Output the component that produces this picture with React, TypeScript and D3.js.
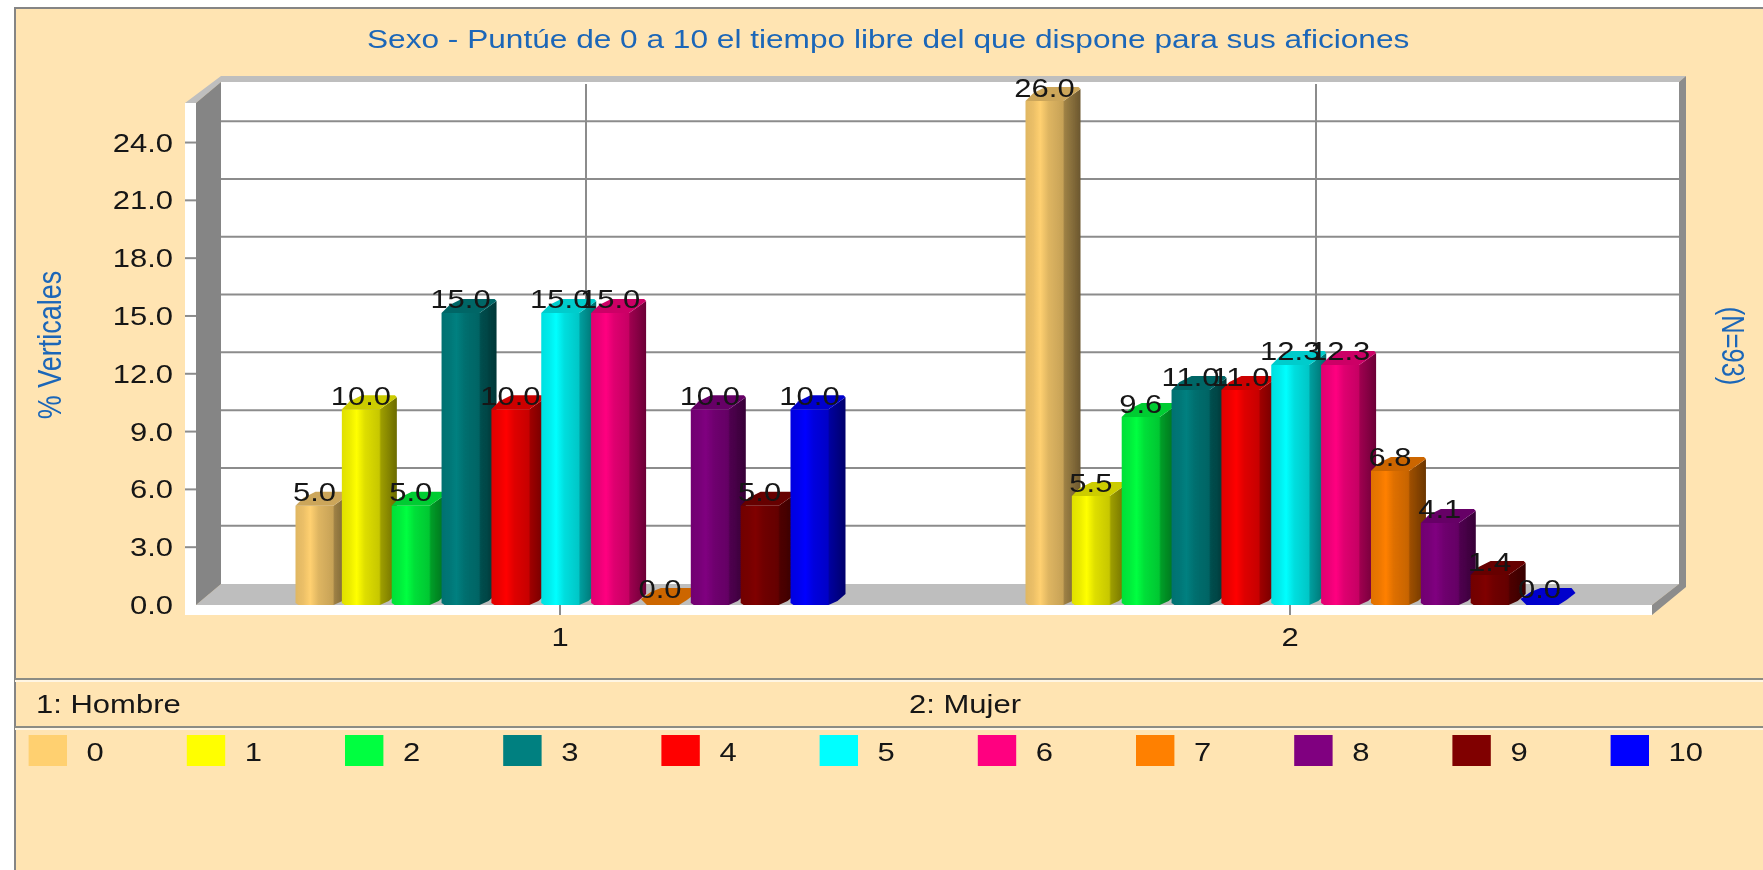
import React from "react";
import * as d3 from "d3";

const W = 1763, H = 870;
const categories = ["1", "2"];
const seriesNames = ["0", "1", "2", "3", "4", "5", "6", "7", "8", "9", "10"];
const hombre = [5.0, 10.0, 5.0, 15.0, 10.0, 15.0, 15.0, 0.0, 10.0, 5.0, 10.0];
const mujer = [26.0, 5.5, 9.6, 11.0, 11.0, 12.3, 12.3, 6.8, 4.1, 1.4, 0.0];
const groups = [hombre, mujer];
const colors = ["#FFD070", "#FFFF00", "#00FF40", "#008080", "#FF0000", "#00FFFF", "#FF0080", "#FF8000", "#800080", "#800000", "#0000FF"];
const yTicks = [0, 3, 6, 9, 12, 15, 18, 21, 24];
const gridTicks = [3, 6, 9, 12, 15, 18, 21, 24];
const catNotes = ["1: Hombre", "2: Mujer"];
const title = "Sexo - Puntúe de 0 a 10 el tiempo libre del que dispone para sus aficiones";

const BG = "#FFE4B2", BLUE = "#1A66B8", TXT = "#151515", WALL = "#858585", FLOOR = "#BEBEBE", GRID = "#8C8C8C";
const FONT = "'Liberation Sans', Arial, sans-serif";

const y = d3.scaleLinear().domain([0, 26]).range([605, 104]);
const x0 = d3.scaleBand<string>().domain(categories).range([195, 1655]);
const barStep = 49.85, barOffset = -268, firstBarNudge = 3.5;
const xBar = d3.scaleLinear().domain([0, 1]).range([barOffset, barOffset + barStep]);
const depthX = 26, depthY = 21.4;
const BW = 55, FW = 38;
const fmt = d3.format(".1f");
const line = d3.line<[number, number]>();
const poly = (p: [number, number][]) => line(p) + "Z";
const mult = (c: string, k: number) => {
  const r = d3.rgb(c);
  return d3.rgb(r.r * k, r.g * k, r.b * k).formatHex();
};
const stops: [number, number][] = [[0, 0.88], [0.14, 0.92], [0.27, 1], [0.42, 0.87], [0.68, 0.78], [0.71, 0.62], [1, 0.42]];
const barLeft = (g: number, i: number) =>
  x0(categories[g])! + x0.bandwidth() / 2 + xBar(i) + (i === 0 ? firstBarNudge : 0);

function T({ x, y: yy, anchor = "start", fill = TXT, size = 25, sx = 1.24, children }: any) {
  return (
    <text transform={`translate(${x},${yy}) scale(${sx},1)`} textAnchor={anchor} fill={fill} fontSize={size} fontFamily={FONT}>
      {children}
    </text>
  );
}

function Bar({ g, i, v }: { g: number; i: number; v: number }) {
  const x = barLeft(g, i);
  const yb = y(0);
  const yt = y(v) - 3;
  if (v <= 0) {
    const blob = poly([[x, yb - 6], [x + 10, yb - 13], [x + 20, yb - 17], [x + BW - 4, yb - 17], [x + BW, yb - 12], [x + 46, yb - 5], [x + FW, yb], [x + 6, yb]]);
    return <path d={blob} fill={mult(colors[i], 0.8)} />;
  }
  const body = poly([[x, yt], [x + FW, yt], [x + BW, yt - 12], [x + BW, yb - 11], [x + 47, yb - 4], [x + FW, yb], [x + 3, yb], [x, yb - 2]]);
  const top = poly([[x, yt], [x + 8, yt - 8], [x + 20, yt - 14], [x + BW - 2, yt - 14], [x + BW, yt - 12], [x + FW, yt]]);
  return (
    <g>
      <path d={body} fill={`url(#bar${i})`} />
      <path d={top} fill={mult(colors[i], 0.8)} />
    </g>
  );
}

export default function App() {
  return (
    <svg width={W} height={H} style={{ position: "fixed", left: 0, top: 0, display: "block", background: "#fff" }}>
      <defs>
        <filter id="soft" filterUnits="userSpaceOnUse" x={0} y={0} width={W} height={H}>
          <feGaussianBlur stdDeviation={0.55} />
        </filter>
        {colors.map((c, i) => (
          <linearGradient key={i} id={`bar${i}`} x1={0} x2={1} y1={0} y2={0}>
            {stops.map(([o, k]) => <stop key={o} offset={o} stopColor={mult(c, k)} />)}
          </linearGradient>
        ))}
      </defs>
      <g filter="url(#soft)">
        <rect x={0} y={0} width={W} height={H} fill="#fff" />
        <rect x={14} y={7} width={W} height={H} fill={WALL} />
        <rect x={16} y={9} width={W} height={H} fill={BG} />

        <T x={367} y={48} fill={BLUE} sx={1.265}>{title}</T>

        {/* 3D frame */}
        <rect x={221} y={82} width={1458} height={502} fill="#fff" />
        <path d={poly([[221, 584], [1679, 584], [1652, 605], [196, 605]])} fill={FLOOR} />
        <path d={poly([[185, 103], [221, 76], [1686, 76], [1679, 82], [221, 82], [196, 103]])} fill={FLOOR} />
        <path d={poly([[196, 103], [221, 82], [221, 584], [196, 605]])} fill={WALL} />
        <path d={poly([[1679, 82], [1686, 76], [1686, 587], [1652, 615], [1652, 605], [1679, 584]])} fill={GRID} />
        <rect x={185} y={103} width={11} height={512} fill="#fff" />
        <rect x={185} y={605} width={1467} height={10} fill="#fff" />

        {gridTicks.map(t => <line key={t} x1={221} x2={1679} y1={y(t) - depthY} y2={y(t) - depthY} stroke={GRID} strokeWidth={2} />)}
        {categories.map(c => {
          const cx = x0(c)! + x0.bandwidth() / 2;
          return (
            <g key={c}>
              <line x1={cx + depthX} x2={cx + depthX} y1={84} y2={584} stroke={GRID} strokeWidth={2} />
              <line x1={cx} x2={cx} y1={605} y2={615} stroke={GRID} strokeWidth={2} />
              <T x={cx} y={646} anchor="middle">{c}</T>
            </g>
          );
        })}
        {yTicks.map(t => (
          <g key={t}>
            {t > 0 && <line x1={185} x2={196} y1={y(t)} y2={y(t)} stroke={GRID} strokeWidth={2} />}
            <T x={173} y={y(t) + 9} anchor="end">{fmt(t)}</T>
          </g>
        ))}

        {groups.map((vals, g) => <g key={g}>{vals.map((v, i) => <Bar key={i} g={g} i={i} v={v} />)}</g>)}
        {groups.map((vals, g) => (
          <g key={g}>
            {vals.map((v, i) => <T key={i} x={barLeft(g, i) + 19} y={y(v) - 7.5} anchor="middle">{fmt(v)}</T>)}
          </g>
        ))}

        <text transform="translate(61,345) rotate(-90) scale(1,1.2)" textAnchor="middle" fill={BLUE} fontSize={27} fontFamily={FONT}>% Verticales</text>
        <text transform="translate(1722,346) rotate(90) scale(1,1.2)" textAnchor="middle" fill={BLUE} fontSize={25.5} fontFamily={FONT}>(N=93)</text>

        {/* Legend strips */}
        {[679, 727].map(ly => (
          <g key={ly}>
            <rect x={15} y={ly - 1} width={W} height={2} fill="#8C8C84" />
            <rect x={15} y={ly + 1} width={W} height={2} fill="#FFF6E4" />
          </g>
        ))}
        <T x={36} y={713}>{catNotes[0]}</T>
        <T x={909} y={713}>{catNotes[1]}</T>
        {seriesNames.map((s, i) => {
          const lx = d3.scaleLinear().domain([0, 1]).range([28.6, 186.8])(i);
          return (
            <g key={s}>
              <rect x={lx} y={735} width={38.4} height={31} fill={colors[i]} />
              <T x={lx + 58} y={761}>{s}</T>
            </g>
          );
        })}
      </g>
    </svg>
  );
}
